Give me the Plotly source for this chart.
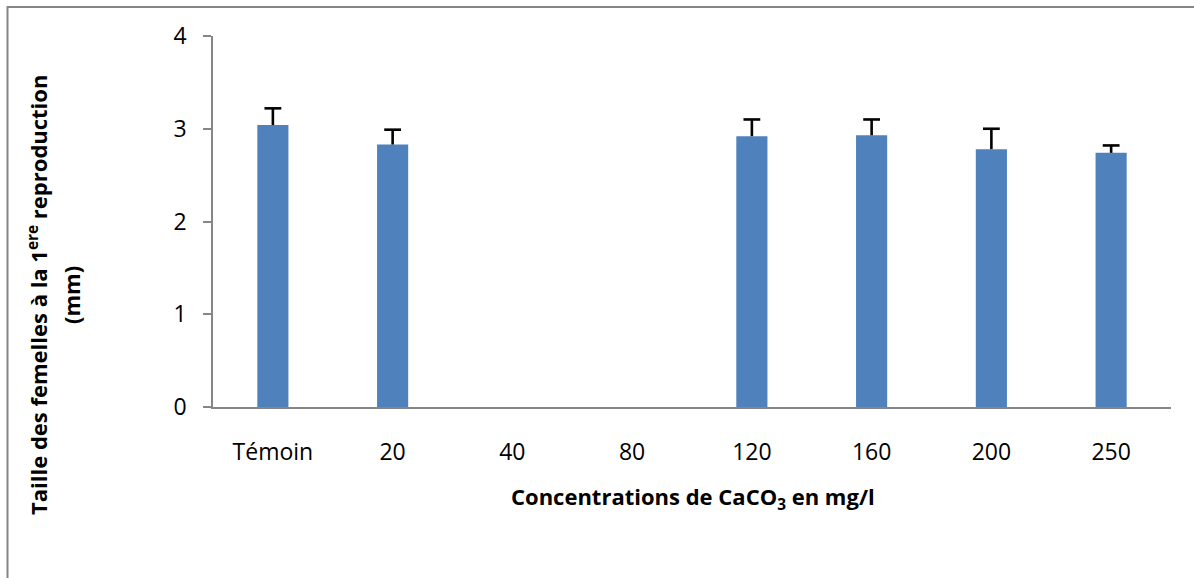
import plotly.graph_objects as go

categories = ["Témoin", "20", "40", "80", "120", "160", "200", "250"]
values = [3.04, 2.83, None, None, 2.92, 2.93, 2.78, 2.74]
errors = [0.18, 0.16, None, None, 0.18, 0.17, 0.22, 0.08]
y_ticks = [0, 1, 2, 3, 4]

W, H = 1194, 578
ML, MR, MT, MB = 213, 23, 36, 171
PW, PH = W - ML - MR, H - MT - MB

FONT = "Open Sans"
border_color = "#868686"

def px_x(p):
    return (p - ML) / PW

def px_y(p):
    return (MT + PH - p) / PH

cap_y = [v + e if v is not None else None for v, e in zip(values, errors)]

fig = go.Figure()
fig.add_trace(go.Bar(
    x=categories,
    y=values,
    marker=dict(color="#4F81BD", line=dict(width=0)),
    error_y=dict(type="data", array=errors, arrayminus=[0] * len(errors),
                 symmetric=False, color="black", thickness=2.6, width=0),
))
fig.add_trace(go.Scatter(
    x=categories, y=cap_y, mode="markers",
    marker=dict(symbol="line-ew", size=12, line=dict(color="black", width=2.6)),
    hoverinfo="skip",
))

fig.add_shape(type="rect", xref="paper", yref="paper",
              x0=px_x(7.5), x1=px_x(W + 20),
              y0=px_y(H + 20), y1=px_y(7),
              line=dict(color=border_color, width=2), layer="below")

fig.add_annotation(
    text="<b>Concentrations de CaCO<sub>3</sub> en mg/l</b>",
    xref="paper", yref="paper", x=px_x(693), y=px_y(498),
    xanchor="center", yanchor="middle", showarrow=False,
    font=dict(size=22, family=FONT, color="black"),
)
fig.add_annotation(
    text="<b>Taille des femelles à la 1<sup>ere</sup> reproduction</b>",
    xref="paper", yref="paper", x=px_x(37), y=px_y(295),
    xanchor="center", yanchor="middle", showarrow=False, textangle=-90,
    font=dict(size=22, family=FONT, color="black"),
)
fig.add_annotation(
    text="<b>(mm)</b>",
    xref="paper", yref="paper", x=px_x(71), y=px_y(295),
    xanchor="center", yanchor="middle", showarrow=False, textangle=-90,
    font=dict(size=22, family=FONT, color="black"),
)

fig.update_layout(
    width=W, height=H,
    margin=dict(l=ML, r=MR, t=MT, b=MB, autoexpand=False),
    paper_bgcolor="white", plot_bgcolor="white",
    bargap=0.74,
    showlegend=False,
    font=dict(family=FONT, color="black"),
    xaxis=dict(
        type="category",
        showline=True, linecolor=border_color, linewidth=1.5,
        ticks="", showgrid=False,
        tickfont=dict(size=23, family=FONT),
        ticklabelstandoff=24,
        automargin=False,
    ),
    yaxis=dict(
        range=[0, 4], tickvals=y_ticks,
        showline=True, linecolor=border_color, linewidth=1.5,
        ticks="outside", ticklen=8, tickcolor=border_color, tickwidth=1.5,
        showgrid=False, zeroline=False,
        tickfont=dict(size=23, family=FONT),
        ticklabelstandoff=12,
        automargin=False,
    ),
)

fig.write_html("out.html")
